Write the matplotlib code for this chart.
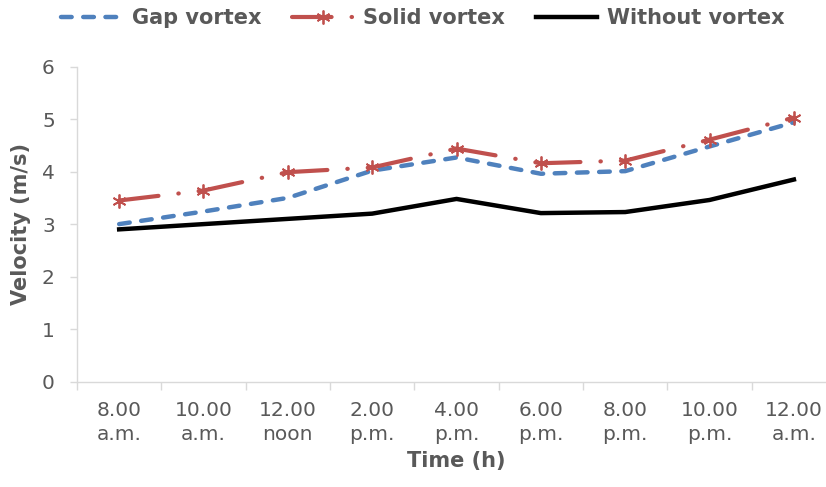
import matplotlib
matplotlib.use('Agg')
import matplotlib.pyplot as plt
import numpy as np

# categories (time of day) and velocities (m/s)
times = ["8.00\na.m.", "10.00\na.m.", "12.00\nnoon", "2.00\np.m.", "4.00\np.m.",
         "6.00\np.m.", "8.00\np.m.", "10.00\np.m.", "12.00\na.m."]
gap_vortex = [3.0, 3.24, 3.5, 4.02, 4.27, 3.96, 4.01, 4.48, 4.94]
solid_vortex = [3.45, 3.64, 3.99, 4.08, 4.44, 4.16, 4.21, 4.61, 5.03]
without_vortex = [2.9, 3.0, 3.1, 3.2, 3.48, 3.21, 3.23, 3.46, 3.85]

plt.rcParams['font.family'] = 'DejaVu Sans'
txt = '#595959'
grey = '#D9D9D9'
red = '#C0504D'

fig = plt.figure(figsize=(8.26, 4.87), dpi=100)
ax = fig.add_axes([0.0932, 0.2166, 0.919, 0.6464])

x = np.arange(len(times))

ax.plot(x, gap_vortex, color='#4F81BD', lw=3.2, dashes=(2.4, 2.6),
        dash_capstyle='round', label='Gap vortex')

# dash-dot pattern restarts at every point, like Excel does
red_style = dict(color=red, lw=3.0, dashes=(9.5, 4.8, 0.1, 4.8), dash_capstyle='round')
for i in range(len(x) - 1):
    ax.plot(x[i:i + 2], solid_vortex[i:i + 2], **red_style)
ax.plot(x, solid_vortex, ls='none', marker=(6, 2, 0), markersize=10,
        markeredgewidth=1.3, markeredgecolor=red)
ax.plot([], [], marker=(6, 2, 0), markersize=10, markeredgewidth=1.3,
        markeredgecolor=red, label='Solid vortex', **red_style)

ax.plot(x, without_vortex, color='black', lw=3.2, label='Without vortex')

ax.set_xlim(-0.5, len(times) - 0.5)
ax.set_ylim(0, 6)
ax.set_yticks(range(0, 7))

ax.set_xticks(x)
ax.set_xticklabels(times, fontsize=14.5, color=txt, linespacing=1.35)
ax.set_xticks(np.arange(-0.5, len(times), 1), minor=True)
ax.tick_params(axis='x', which='major', length=0, pad=14)
ax.tick_params(axis='x', which='minor', length=6, color=grey, width=1)
ax.tick_params(axis='y', length=5, color=grey, width=1, pad=11,
               labelsize=14.5, labelcolor=txt)

for s in ['top', 'right']:
    ax.spines[s].set_visible(False)
for s in ['left', 'bottom']:
    ax.spines[s].set_color(grey)
    ax.spines[s].set_linewidth(1)

ax.set_xlabel('Time (h)', fontsize=15, fontweight='bold', color=txt, labelpad=5)
ax.set_ylabel('Velocity (m/s)', fontsize=15, fontweight='bold', color=txt, labelpad=8)

leg = fig.legend(loc='center', bbox_to_anchor=(0.512, 0.963), ncol=3,
                 frameon=False, handlelength=2.9, handletextpad=0.5,
                 columnspacing=1.5, prop={'size': 15, 'weight': 'bold'})
for t in leg.get_texts():
    t.set_color(txt)

fig.savefig('out.png', dpi=100)
